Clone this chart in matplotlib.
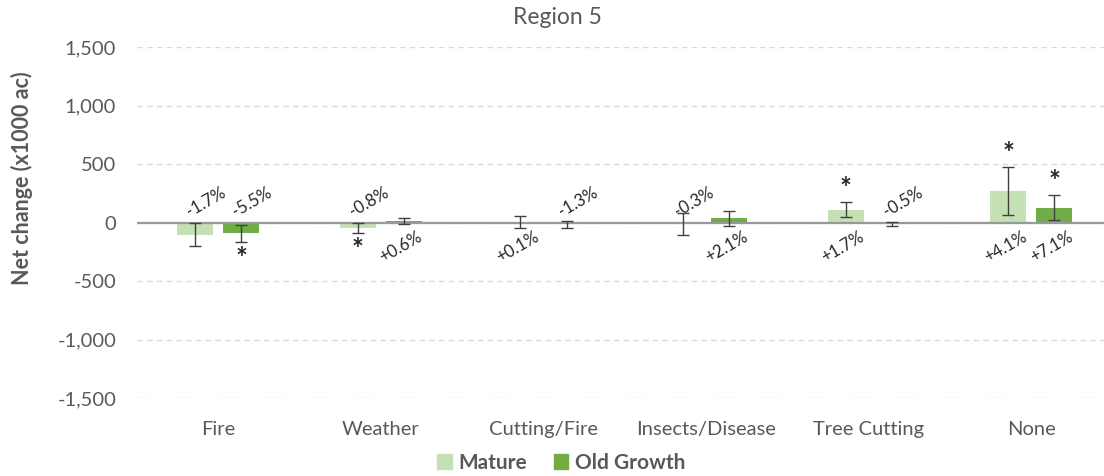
import matplotlib
matplotlib.use("Agg")
import matplotlib.pyplot as plt
from matplotlib.patches import Patch
import numpy as np

plt.rcParams['font.family'] = ['Lato', 'DejaVu Sans']

categories = ["Fire", "Weather", "Cutting/Fire", "Insects/Disease", "Tree Cutting", "None"]
mature = [-105, -48, 3, -15, 110, 270]
mature_err = [100, 42, 50, 95, 67, 203]
old_growth = [-93, 12, -15, 35, -10, 127]
old_growth_err = [70, 25, 28, 65, 18, 104]
mature_pct = ["-1.7%", "-0.8%", "+0.1%", "-0.3%", "+1.7%", "+4.1%"]
old_growth_pct = ["-5.5%", "+0.6%", "-1.3%", "+2.1%", "-0.5%", "+7.1%"]
mature_sig = [False, True, False, False, True, True]
old_growth_sig = [True, False, False, False, False, True]
yticks = [-1500, -1000, -500, 0, 500, 1000, 1500]

c_mature = "#c5e0b4"
c_og = "#70ad47"
c_err = "#404040"
c_text = "#595959"

fig = plt.figure(figsize=(11.04, 4.76), dpi=100)
ax = fig.add_axes([137/1104, 1-398/476, 1-137/1104, (398-47)/476])

x = np.arange(len(categories))
off = 0.1415
w = 0.221

ax.bar(x - off, mature, w, color=c_mature, zorder=2)
ax.bar(x + off, old_growth, w, color=c_og, zorder=2)
ax.errorbar(x - off, mature, yerr=mature_err, fmt='none', ecolor=c_err, elinewidth=1, capsize=4, capthick=1, zorder=4)
ax.errorbar(x + off, old_growth, yerr=old_growth_err, fmt='none', ecolor=c_err, elinewidth=1, capsize=4, capthick=1, zorder=4)

ax.axhline(0, color="#999999", lw=1.6, zorder=3)

ax.set_ylim(-1500, 1500)
ax.set_xlim(-0.5, -0.5 + 967/162.6)
ax.set_yticks(yticks)
ax.set_yticklabels([f"{v:,}" for v in yticks])
ax.set_xticks(x)
ax.set_xticklabels(categories)
ax.tick_params(axis='both', length=0, labelsize=14.5, labelcolor=c_text)
ax.tick_params(axis='y', pad=15)
ax.tick_params(axis='x', pad=16.5)
for s in ax.spines.values():
    s.set_visible(False)
ax.yaxis.grid(True, color="#d9d9d9", lw=1, linestyle=(0, (4, 3)), zorder=0)
ax.set_axisbelow(True)

def pct_label(xpos, pct):
    if pct.startswith('-'):
        ax.annotate(pct, (xpos, 0), xytext=(8, 15), textcoords='offset points',
                    ha='center', va='center', rotation=30, fontsize=12, color="#262626")
    else:
        ax.annotate(pct, (xpos, 0), xytext=(-2, -18), textcoords='offset points',
                    ha='center', va='center', rotation=30, fontsize=12, color="#262626")

def star(xpos, val, err, sig):
    if not sig:
        return
    if val >= 0:
        ax.annotate("*", (xpos, val + err), xytext=(0, 0), textcoords='offset points',
                    ha='center', va='bottom', fontsize=20, fontweight='bold', color="#262626")
    else:
        ax.annotate("*", (xpos, val - err), xytext=(0, -3), textcoords='offset points',
                    ha='center', va='top', fontsize=20, fontweight='bold', color="#262626")

for i in range(len(categories)):
    pct_label(x[i] - off, mature_pct[i])
    pct_label(x[i] + off, old_growth_pct[i])
    star(x[i] - off, mature[i], mature_err[i], mature_sig[i])
    star(x[i] + off, old_growth[i], old_growth_err[i], old_growth_sig[i])

fig.text(557/1104, 1-18/476, "Region 5", ha='center', va='center', fontsize=16.5, color=c_text)
fig.text(22/1104, 1-178/476, "Net change (x1000 ac)", ha='center', va='center', rotation=90,
         fontsize=15.5, fontweight='bold', color=c_text)

handles = [Patch(color=c_mature, label="Mature"), Patch(color=c_og, label="Old Growth")]
leg = fig.legend(handles=handles, loc='center', bbox_to_anchor=(561/1104, 1-463/476), ncol=2,
                 frameon=False, handlelength=0.7, handleheight=0.7, handletextpad=0.3,
                 columnspacing=1.3, prop={'weight': 'bold', 'size': 15})
for t in leg.get_texts():
    t.set_color(c_text)

fig.savefig("out.png", dpi=100)
